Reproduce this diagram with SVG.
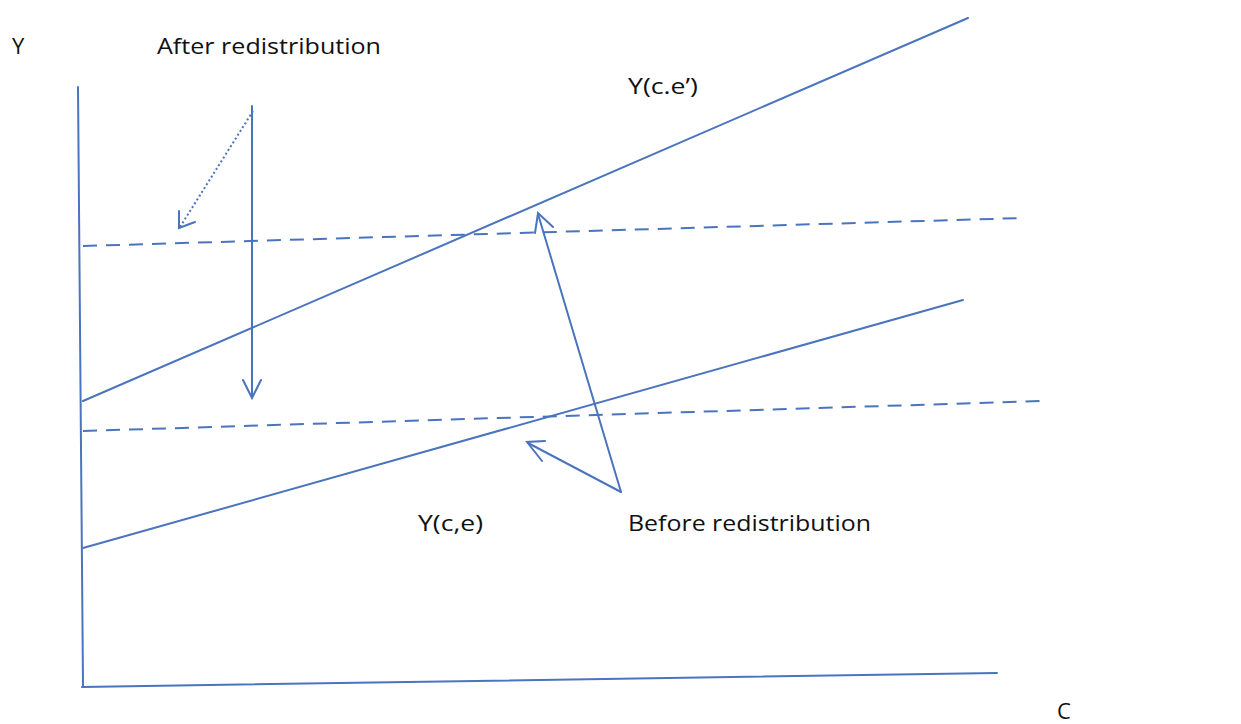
<svg xmlns="http://www.w3.org/2000/svg" width="1241" height="724" viewBox="0 0 1241 724">
<style>
.ln{stroke:#4a74bd;stroke-width:2;fill:none;stroke-linecap:round}
.dash{stroke-dasharray:14 9;stroke-linecap:butt}
.dot{stroke-dasharray:2 2.5;stroke-linecap:butt;stroke-width:2}
.hd{stroke:#4a74bd;stroke-width:2;fill:none;stroke-linecap:round;stroke-linejoin:miter}
text{font-family:"Open Sans","Liberation Sans",Arial,sans-serif;font-size:22px;fill:#111111}
</style>
<rect width="1241" height="724" fill="#ffffff"/>
<g id="axes">
<line class="ln" x1="78" y1="87" x2="83" y2="686"/>
<line class="ln" x1="82" y1="687" x2="997" y2="673"/>
</g>
<g id="curves">
<line id="y-ce-prime" class="ln" x1="83" y1="401" x2="968" y2="18"/>
<line id="y-ce" class="ln" x1="83" y1="548" x2="963" y2="300"/>
<line id="dash-upper" class="ln dash" x1="83" y1="246" x2="1023" y2="218"/>
<line id="dash-lower" class="ln dash" x1="83" y1="431" x2="1043" y2="401"/>
</g>
<g id="connectors">
<line class="ln" x1="252" y1="106" x2="252" y2="398"/>
<polyline class="hd" points="243,380 252,398 261,380"/>
<line class="ln dot" x1="253" y1="111" x2="180" y2="227"/>
<polyline class="hd" points="179,211 179,228 195,222"/>
<line class="ln" x1="621" y1="492" x2="538" y2="214"/>
<polyline class="hd" points="535,233 538,213 553,227"/>
<line class="ln" x1="621" y1="492" x2="528" y2="443"/>
<polyline class="hd" points="542,461 527,442 545,441"/>
</g>
<g id="labels">
<text x="12" y="54">Y</text>
<text x="157" y="54" textLength="224" lengthAdjust="spacingAndGlyphs">After redistribution</text>
<text x="628" y="94" textLength="70" lengthAdjust="spacingAndGlyphs">Y(c.e’)</text>
<text x="418" y="531" textLength="65" lengthAdjust="spacingAndGlyphs">Y(c,e)</text>
<text x="628" y="531" textLength="243" lengthAdjust="spacingAndGlyphs">Before redistribution</text>
<text x="1057" y="719">C</text>
</g>
</svg>
